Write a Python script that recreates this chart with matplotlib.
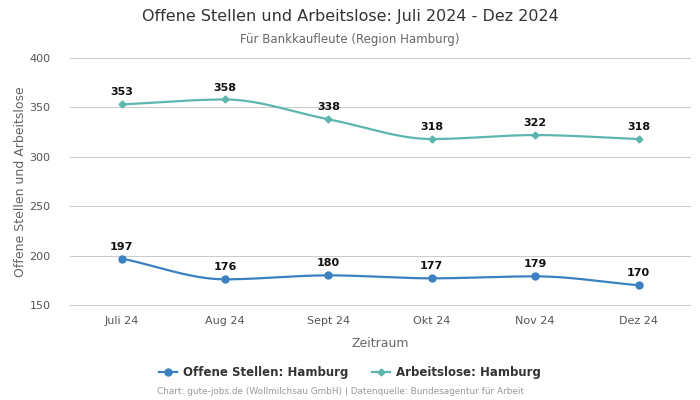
import matplotlib
matplotlib.use("Agg")
import matplotlib.pyplot as plt
import numpy as np
from matplotlib.lines import Line2D

months = ["Juli 24", "Aug 24", "Sept 24", "Okt 24", "Nov 24", "Dez 24"]
offene_stellen = [197, 176, 180, 177, 179, 170]
arbeitslose = [353, 358, 338, 318, 322, 318]

blue = "#3b80c0"
teal = "#5cb6ae"


def smooth(x, y, n=40):
    # monotone cubic (Fritsch-Carlson) just for drawing the curve between points
    x = np.asarray(x, float)
    y = np.asarray(y, float)
    h = np.diff(x)
    d = np.diff(y) / h
    m = np.zeros_like(y)
    m[0], m[-1] = d[0], d[-1]
    for i in range(1, len(y) - 1):
        if d[i - 1] * d[i] <= 0:
            m[i] = 0
        else:
            m[i] = 2 / (1 / d[i - 1] + 1 / d[i])
    xs, ys = [], []
    for i in range(len(x) - 1):
        t = np.linspace(0, 1, n)
        h00 = 2 * t**3 - 3 * t**2 + 1
        h10 = t**3 - 2 * t**2 + t
        h01 = -2 * t**3 + 3 * t**2
        h11 = t**3 - t**2
        xs.append(x[i] + t * h[i])
        ys.append(h00 * y[i] + h10 * h[i] * m[i] + h01 * y[i + 1] + h11 * h[i] * m[i + 1])
    return np.concatenate(xs), np.concatenate(ys)


fig = plt.figure(figsize=(7, 4), dpi=100)
ax = fig.add_axes([0.1, 0.2375, 0.886, 0.6175])

x = np.arange(len(months))
for vals, col, mk, ms in [(offene_stellen, blue, "o", 5), (arbeitslose, teal, "D", 3.5)]:
    sx, sy = smooth(x, vals)
    ax.plot(sx, sy, color=col, lw=1.6, zorder=3)
    ax.plot(x, vals, ls="none", marker=mk, color=col, ms=ms, zorder=4, clip_on=False)
    for xi, v in zip(x, vals):
        ax.annotate(str(v), (xi, v), xytext=(0, 5), textcoords="offset points",
                    ha="center", va="bottom", fontsize=8, fontweight="bold", color="#111111")

ax.set_xlim(-0.5, len(months) - 0.5)
ax.set_ylim(150, 400)
ax.set_yticks(range(150, 401, 50))
ax.set_xticks(x)
ax.set_xticklabels(months)
for yv in range(150, 401, 50):
    ax.axhline(yv, color="#cccccc", lw=0.8, zorder=0, clip_on=False)
for s in ax.spines.values():
    s.set_visible(False)
ax.tick_params(axis="y", length=0, labelsize=8, colors="#555555", pad=14)
ax.tick_params(axis="x", length=0, labelsize=8, colors="#555555", pad=8)
ax.set_xlabel("Zeitraum", fontsize=9, color="#666666", labelpad=8)
ax.set_ylabel("Offene Stellen und Arbeitslose", fontsize=9, color="#666666", labelpad=2)

fig.text(0.5, 0.958, "Offene Stellen und Arbeitslose: Juli 2024 - Dez 2024",
         ha="center", va="center", fontsize=11.5, color="#333333")
fig.text(0.5, 0.902, "Für Bankkaufleute (Region Hamburg)",
         ha="center", va="center", fontsize=8.5, color="#666666")

handles = [
    Line2D([0], [0], color=blue, marker="o", ms=5, lw=1.6),
    Line2D([0], [0], color=teal, marker="D", ms=3.5, lw=1.6),
]
leg = fig.legend(handles, ["Offene Stellen: Hamburg", "Arbeitslose: Hamburg"],
                 loc="center", bbox_to_anchor=(0.5, 0.068), ncol=2, frameon=False,
                 handlelength=1.5, columnspacing=2, handletextpad=0.5,
                 prop={"weight": "bold", "size": 8.5})
for t in leg.get_texts():
    t.set_color("#333333")

fig.text(0.486, 0.02, "Chart: gute-jobs.de (Wollmilchsau GmbH) | Datenquelle: Bundesagentur für Arbeit",
         ha="center", va="center", fontsize=6.4, color="#999999")

fig.savefig("out.png", dpi=100)
